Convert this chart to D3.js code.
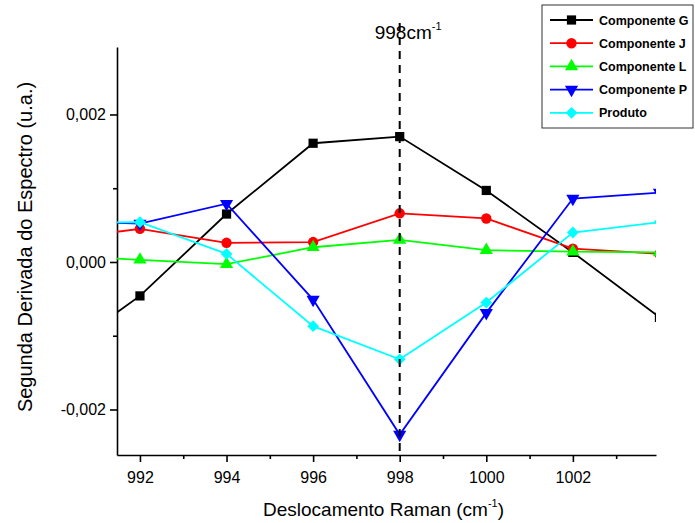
<!DOCTYPE html>
<html>
<head>
<meta charset="utf-8">
<script src="https://cdn.jsdelivr.net/npm/d3@7"></script>
<style>
  body { margin: 0; background: #fff; }
  svg { display: block; font-family: 'Liberation Sans', Arial, sans-serif; }
  .axis path, .axis line { stroke: #000; stroke-width: 1.6; }
  .axis text { font-size: 16px; fill: #000; }
</style>
</head>
<body>
<div class="chart"></div>
<script>
// Raman shift (cm-1)
const shifts = [990, 992, 994, 996, 998, 1000, 1002, 1004]

// second derivative values, one array per series
const compG = [-0.0013, -0.00046, 0.00065, 0.00161, 0.0017, 0.00097, 0.00013, -0.00075]
const compJ = [0.0003, 0.00045, 0.00026, 0.00027, 0.00066, 0.00059, 0.00018, 0.00011]
const compL = [0.00009, 0.00003, -0.00003, 0.0002, 0.0003, 0.00016, 0.00014, 0.00013]
const compP = [0.00056, 0.00052, 0.00079, -0.00051, -0.00234, -0.00069, 0.00086, 0.00094]
const produto = [0.00053, 0.00054, 0.00011, -0.00087, -0.00132, -0.00055, 0.0004, 0.00054]

const seriesNames = ['Componente G', 'Componente J', 'Componente L', 'Componente P', 'Produto']
const seriesValues = [compG, compJ, compL, compP, produto]
const COLORS = ['#000000', '#ff0000', '#00ff00', '#0000ff', '#00ffff']

const xDomain = [991.47, 1003.92]
const yDomain = [-0.002617, 0.002915]
const xMajor = [992, 994, 996, 998, 1000, 1002]
const xMinor = [993, 995, 997, 999, 1001, 1003]
const yMajor = [-0.002, 0, 0.002]
const yMinor = [-0.001, 0.001]
const markLine = 998

const W = 695
const H = 523
const margin = {top: 47, right: 39, bottom: 68, left: 117}
const width = W - margin.left - margin.right
const height = H - margin.top - margin.bottom

const locale = d3.formatLocale({decimal: ',', thousands: '.', grouping: [3], currency: ['', ''], minus: '-'})
const formatY = locale.format('.3f')

const scaleX = d3.scaleLinear().domain(xDomain).range([0, width])
const scaleY = d3.scaleLinear().domain(yDomain).range([height, 0])

function markerPath (i) {
  const sym = d3.symbol()
  if (i === 0) return sym.type(d3.symbolSquare).size(85)()
  if (i === 1) return sym.type(d3.symbolCircle).size(85)()
  if (i === 2) return sym.type(d3.symbolTriangle).size(75)()
  if (i === 3) return sym.type(d3.symbolTriangle).size(75)()
  return sym.type(d3.symbolSquare).size(70)()
}

function markerRotate (i) {
  if (i === 3) return 180
  if (i === 4) return 45
  return 0
}

const svg = d3.select('.chart').append('svg')
  .attr('width', W)
  .attr('height', H)

svg.append('defs').append('clipPath')
  .attr('id', 'plot-clip')
  .append('rect')
  .attr('width', width)
  .attr('height', height)

const g = svg.append('g')
  .attr('transform', `translate(${margin.left},${margin.top})`)

// axes
const axisX = g.append('g').attr('class', 'axis axis--x')
  .attr('transform', `translate(0,${height})`)
  .call(d3.axisBottom(scaleX).tickValues(xMajor).tickSize(7).tickSizeOuter(0).tickPadding(10).tickFormat(d3.format('d')))
axisX.append('g')
  .call(d3.axisBottom(scaleX).tickValues(xMinor).tickSize(4).tickSizeOuter(0).tickFormat(''))
  .select('.domain').remove()

const axisY = g.append('g').attr('class', 'axis axis--y')
  .call(d3.axisLeft(scaleY).tickValues(yMajor).tickSize(7).tickSizeOuter(0).tickPadding(4).tickFormat(formatY))
axisY.append('g')
  .call(d3.axisLeft(scaleY).tickValues(yMinor).tickSize(4).tickSizeOuter(0).tickFormat(''))
  .select('.domain').remove()

// series
const plot = g.append('g').attr('clip-path', 'url(#plot-clip)')
const line = d3.line()
  .x(d => scaleX(d[0]))
  .y(d => scaleY(d[1]))

seriesValues.forEach(function (vals, i) {
  const pts = shifts.map((s, k) => [s, vals[k]])
  const sg = plot.append('g').attr('class', 'series')
  sg.append('path')
    .datum(pts)
    .attr('fill', 'none')
    .attr('stroke', COLORS[i])
    .attr('stroke-width', 1.8)
    .attr('d', line)
  sg.selectAll('path.mark').data(pts).enter().append('path')
    .attr('class', 'mark')
    .attr('d', markerPath(i))
    .attr('fill', COLORS[i])
    .attr('transform', d => `translate(${scaleX(d[0])},${scaleY(d[1])}) rotate(${markerRotate(i)})`)
})

// dashed marker at 998
g.append('line')
  .attr('x1', scaleX(markLine))
  .attr('x2', scaleX(markLine))
  .attr('y1', -24)
  .attr('y2', height)
  .attr('stroke', '#000')
  .attr('stroke-width', 2)
  .attr('stroke-dasharray', '8,6')

const mark = g.append('text')
  .attr('x', scaleX(markLine) - 25)
  .attr('y', -8)
  .attr('font-size', 19)
mark.append('tspan').text(markLine + 'cm')
mark.append('tspan').attr('font-size', 11).attr('dy', -9).text('-1')

// axis titles
const titleX = svg.append('text')
  .attr('x', margin.left + width / 2 - 3)
  .attr('y', 516)
  .attr('text-anchor', 'middle')
  .attr('font-size', 19)
titleX.append('tspan').text('Deslocamento Raman (cm')
titleX.append('tspan').attr('font-size', 11).attr('dy', -9).text('-1')
titleX.append('tspan').attr('dy', 9).text(')')

svg.append('text')
  .attr('transform', `translate(32,${margin.top + height / 2 - 4}) rotate(-90)`)
  .attr('text-anchor', 'middle')
  .attr('font-size', 20)
  .text('Segunda Derivada do Espectro (u.a.)')

// legend
const legend = svg.append('g').attr('transform', 'translate(542,5)')
legend.append('rect')
  .attr('width', 151)
  .attr('height', 123)
  .attr('fill', '#fff')
  .attr('stroke', '#333')
  .attr('stroke-width', 1)

seriesNames.forEach(function (name, i) {
  const row = legend.append('g').attr('transform', `translate(0,${15 + i * 23.2})`)
  row.append('line')
    .attr('x1', 8).attr('x2', 51)
    .attr('stroke', COLORS[i])
    .attr('stroke-width', 1.8)
  row.append('path')
    .attr('d', markerPath(i))
    .attr('fill', COLORS[i])
    .attr('transform', `translate(29.5,0) rotate(${markerRotate(i)})`)
  row.append('text')
    .attr('x', 57)
    .attr('y', 4.5)
    .attr('font-size', 12.5)
    .attr('font-weight', 'bold')
    .text(name)
})
</script>
</body>
</html>
